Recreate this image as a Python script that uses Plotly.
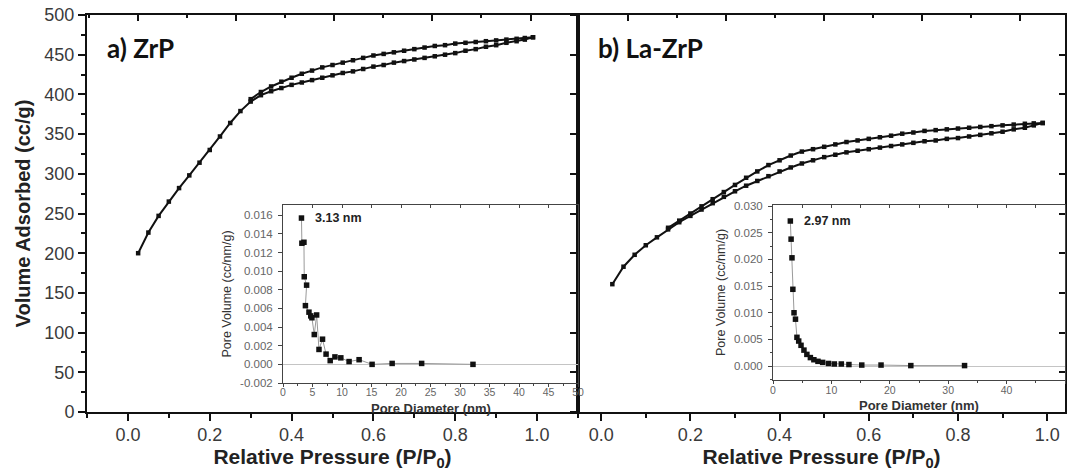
import plotly.graph_objects as go

# ---------------- N2 isotherm, ZrP ----------------
zrp_ads_p = [0.025, 0.05, 0.075, 0.10, 0.125, 0.15, 0.175, 0.20, 0.225, 0.25,
             0.275, 0.30, 0.325, 0.35, 0.375, 0.40, 0.425, 0.45, 0.475, 0.50,
             0.525, 0.55, 0.575, 0.60, 0.625, 0.65, 0.675, 0.70, 0.725, 0.75,
             0.775, 0.80, 0.825, 0.85, 0.875, 0.90, 0.925, 0.95, 0.97, 0.99]
zrp_ads_v = [200, 226, 247, 265, 282, 298, 314, 330, 347, 364,
             379, 391, 399, 404, 408, 412, 415, 418, 421, 424,
             427, 429, 432, 435, 437, 440, 442, 444, 446, 448,
             450, 452, 455, 457, 460, 462, 465, 467, 469, 472]
zrp_des_p = [0.99, 0.97, 0.95, 0.925, 0.90, 0.875, 0.85, 0.825, 0.80, 0.775,
             0.75, 0.725, 0.70, 0.675, 0.65, 0.625, 0.60, 0.575, 0.55, 0.525,
             0.50, 0.475, 0.45, 0.425, 0.40, 0.375, 0.35, 0.325, 0.30]
zrp_des_v = [472, 471, 470, 469, 468, 467, 466, 465, 464, 462,
             461, 459, 457, 455, 453, 451, 449, 446, 443, 440,
             437, 434, 430, 426, 421, 416, 410, 403, 394]

# ---------------- N2 isotherm, La-ZrP ----------------
la_ads_p = [0.025, 0.05, 0.075, 0.10, 0.125, 0.15, 0.175, 0.20, 0.225, 0.25,
            0.275, 0.30, 0.325, 0.35, 0.375, 0.40, 0.425, 0.45, 0.475, 0.50,
            0.525, 0.55, 0.575, 0.60, 0.625, 0.65, 0.675, 0.70, 0.725, 0.75,
            0.775, 0.80, 0.825, 0.85, 0.875, 0.90, 0.925, 0.95, 0.97, 0.99]
la_ads_v = [161, 183, 198, 210, 220, 230, 239, 247, 255, 263,
            271, 278, 285, 291, 297, 303, 308, 313, 317, 321,
            324, 327, 329, 331, 333, 335, 337, 339, 341, 342,
            344, 345, 347, 349, 351, 353, 356, 358, 361, 364]
la_des_p = [0.99, 0.97, 0.95, 0.925, 0.90, 0.875, 0.85, 0.825, 0.80, 0.775,
            0.75, 0.725, 0.70, 0.675, 0.65, 0.625, 0.60, 0.575, 0.55, 0.525,
            0.50, 0.475, 0.45, 0.425, 0.40, 0.375, 0.35, 0.325, 0.30, 0.275,
            0.25, 0.225, 0.20, 0.175, 0.15]
la_des_v = [364, 363.5, 363, 362, 361, 360, 359, 358, 357, 356,
            355, 354, 352, 350.5, 348, 346, 344, 342, 340, 337,
            334, 331, 328, 323, 317, 311, 303, 295, 286, 277,
            268, 259, 250, 241, 232]

# ---------------- pore size distributions ----------------
zrp_psd_d = [3.13, 3.2, 3.55, 3.6, 4.0, 3.8, 4.4, 4.7, 4.9, 5.3,
             5.7, 6.1, 6.7, 7.3, 8.0, 8.8, 9.8, 11.2, 12.9, 15.1,
             18.5, 23.5, 32.2]
zrp_psd_v = [0.0157, 0.0130, 0.0131, 0.0094, 0.0085, 0.0063, 0.0056, 0.0052, 0.0050, 0.0032,
             0.0053, 0.0016, 0.0027, 0.0011, 0.0004, 0.0008, 0.0007, 0.0003, 0.0005, 0.0000,
             0.0001, 0.0001, 0.0000]
la_psd_d = [2.97, 3.1, 3.25, 3.4, 3.6, 3.85, 4.1, 4.4, 4.8, 5.3,
            5.8, 6.4, 7.0, 7.7, 8.5, 9.5, 10.5, 11.7, 13.0, 15.2,
            18.5, 23.6, 32.8]
la_psd_v = [0.0272, 0.0238, 0.0203, 0.0144, 0.0100, 0.0088, 0.0054, 0.0047, 0.0039, 0.0030,
            0.0022, 0.0016, 0.0012, 0.0009, 0.0007, 0.0005, 0.0004, 0.0004, 0.0003, 0.0002,
            0.0002, 0.0001, 0.0001]

panel_labels = ["a) ZrP", "b) La-ZrP"]
peak_labels = ["3.13 nm", "2.97 nm"]
psd_x_title = "Pore Diameter (nm)"
psd_y_title = "Pore Volume (cc/nm/g)"
zrp_psd_yticks = [-0.002, 0.000, 0.002, 0.004, 0.006, 0.008, 0.010, 0.012, 0.014, 0.016]
zrp_psd_yticktext = ["-0.002", "0.000", "0.002", "0.004", "0.006", "0.008",
                     "0.010", "0.012", "0.014", "0.016"]

MAIN_FONT = "Liberation Sans, Arial, sans-serif"
BLACK = "#111111"
INSET_LINE = "#444444"

fig = go.Figure()

iso_line = dict(color=BLACK, width=2)
iso_marker = dict(symbol="square", size=4.5, color=BLACK)

# isotherms: adsorption on the bottom/left axes, desorption on the top/right overlay axes
fig.add_trace(go.Scatter(x=zrp_ads_p, y=zrp_ads_v, mode="lines+markers", line=iso_line,
                         marker=iso_marker, xaxis="x", yaxis="y", showlegend=False))
fig.add_trace(go.Scatter(x=zrp_des_p, y=zrp_des_v, mode="lines+markers", line=iso_line,
                         marker=iso_marker, xaxis="x5", yaxis="y5", showlegend=False))
fig.add_trace(go.Scatter(x=la_ads_p, y=la_ads_v, mode="lines+markers", line=iso_line,
                         marker=iso_marker, xaxis="x2", yaxis="y2", showlegend=False))
fig.add_trace(go.Scatter(x=la_des_p, y=la_des_v, mode="lines+markers", line=iso_line,
                         marker=iso_marker, xaxis="x6", yaxis="y6", showlegend=False))

# pore size distributions: thin connecting line + square markers
psd_line = dict(color="#9a9a9a", width=1)
psd_marker = dict(symbol="square", size=5.5, color=BLACK)
fig.add_trace(go.Scatter(x=zrp_psd_d, y=zrp_psd_v, mode="lines", line=psd_line,
                         xaxis="x3", yaxis="y3", showlegend=False))
fig.add_trace(go.Scatter(x=zrp_psd_d, y=zrp_psd_v, mode="markers", marker=psd_marker,
                         xaxis="x7", yaxis="y7", showlegend=False))
fig.add_trace(go.Scatter(x=la_psd_d, y=la_psd_v, mode="lines", line=psd_line,
                         xaxis="x4", yaxis="y4", showlegend=False))
fig.add_trace(go.Scatter(x=la_psd_d, y=la_psd_v, mode="markers", marker=psd_marker,
                         xaxis="x8", yaxis="y8", showlegend=False))

W, H = 1070, 476
def px_x(p):
    return p / W
def px_y(p):
    return 1 - p / H

dom_ya = [px_y(412), px_y(15)]
dom_xa = [px_x(87), px_x(578)]
dom_xb = [px_x(578), px_x(1065)]
dom_inset_a_x = [px_x(283), px_x(578)]
dom_inset_a_y = [px_y(383), px_y(205)]
dom_inset_b_x = [px_x(773), px_x(1065)]
dom_inset_b_y = [px_y(380), px_y(205)]

tick_font = dict(family=MAIN_FONT, size=18, color="#3a3a3a")
xtitle_font = dict(family=MAIN_FONT, size=21, color="#222222")
ytitle_font = dict(family=MAIN_FONT, size=20, color="#222222")
inset_xtick_font = dict(family=MAIN_FONT, size=10.5, color="#666666")
inset_ytick_font = dict(family=MAIN_FONT, size=11.5, color="#666666")
inset_title_font = dict(family=MAIN_FONT, size=13, color="#333333")
inset_ytitle_font = dict(family=MAIN_FONT, size=12.5, color="#333333")


def main_ax(**kw):
    base = dict(showgrid=False, zeroline=False, automargin=False, fixedrange=True,
                showline=True, linewidth=2, linecolor=BLACK, tickcolor=BLACK,
                tickwidth=1.5)
    base.update(kw)
    return base


def inset_ax(**kw):
    base = dict(showgrid=False, zeroline=False, automargin=False, fixedrange=True,
                showline=True, linewidth=1, linecolor=INSET_LINE, tickcolor=INSET_LINE)
    base.update(kw)
    return base


pressure_title = "<b>Relative Pressure (P/P<sub>0</sub>)</b>"

fig.update_layout(
    width=W, height=H, autosize=False,
    margin=dict(l=0, r=0, t=0, b=0),
    paper_bgcolor="white", plot_bgcolor="rgba(0,0,0,0)",
    # --- panel a ---
    xaxis=main_ax(domain=dom_xa, anchor="y", range=[-0.1, 1.1],
                  ticks="outside", ticklen=7, tick0=0, dtick=0.2, tickformat=".1f",
                  tickfont=tick_font, ticklabelstandoff=-2,
                  minor=dict(ticks="outside", dtick=0.1, tick0=0, ticklen=4, tickcolor=BLACK),
                  title=dict(text=pressure_title, font=xtitle_font, standoff=4)),
    yaxis=main_ax(domain=dom_ya, anchor="x", range=[0, 500],
                  ticks="outside", ticklen=7, tick0=0, dtick=50, tickfont=tick_font,
                  minor=dict(ticks="outside", dtick=25, tick0=0, ticklen=4, tickcolor=BLACK),
                  title=dict(text="<b>Volume Adsorbed (cc/g)</b>", font=ytitle_font, standoff=8)),
    xaxis5=main_ax(overlaying="x", side="top", anchor="y", range=[-0.1, 1.1],
                   ticks="inside", ticklen=6, tick0=0.024, dtick=0.24, showticklabels=False,
                   minor=dict(ticks="inside", dtick=0.12, tick0=0.024, ticklen=3, tickcolor=BLACK)),
    yaxis5=main_ax(overlaying="y", side="right", anchor="x", range=[0, 500],
                   ticks="inside", ticklen=6, tick0=0, dtick=50, showticklabels=False),
    # --- panel b ---
    xaxis2=main_ax(domain=dom_xb, anchor="y2", range=[-0.052, 1.04],
                   ticks="outside", ticklen=7, tick0=0, dtick=0.2, tickformat=".1f",
                   tickfont=tick_font, ticklabelstandoff=-2,
                   minor=dict(ticks="outside", dtick=0.1, tick0=0, ticklen=4, tickcolor=BLACK),
                   title=dict(text=pressure_title, font=xtitle_font, standoff=4)),
    yaxis2=main_ax(domain=dom_ya, anchor="x2", range=[0, 500],
                   ticks="outside", ticklen=6, tick0=0, dtick=50, showticklabels=False),
    xaxis6=main_ax(overlaying="x2", side="top", anchor="y2", range=[-0.052, 1.04],
                   ticks="inside", ticklen=6, tick0=0.06, dtick=0.22, showticklabels=False,
                   minor=dict(ticks="inside", dtick=0.11, tick0=0.06, ticklen=3, tickcolor=BLACK)),
    yaxis6=main_ax(overlaying="y2", side="right", anchor="x2", range=[0, 500],
                   ticks="inside", ticklen=6, tick0=0, dtick=50, showticklabels=False),
    # --- inset a ---
    xaxis3=inset_ax(domain=dom_inset_a_x, anchor="y3", range=[0, 50],
                    ticks="outside", ticklen=3, dtick=5, tickfont=inset_xtick_font,
                    ticklabelstandoff=-4,
                    minor=dict(ticks="outside", dtick=2.5, ticklen=2, tickcolor=INSET_LINE)),
    yaxis3=inset_ax(domain=dom_inset_a_y, anchor="x3", range=[-0.002, 0.0171],
                    zeroline=True, zerolinecolor="#c4c4c4", zerolinewidth=1,
                    ticks="outside", ticklen=4, tickvals=zrp_psd_yticks,
                    ticktext=zrp_psd_yticktext, tickfont=inset_ytick_font, ticklabelstandoff=3,
                    title=dict(text=psd_y_title, font=inset_ytitle_font, standoff=5)),
    xaxis7=inset_ax(overlaying="x3", side="top", anchor="y3", range=[0, 50],
                    ticks="inside", ticklen=3, dtick=5, showticklabels=False),
    yaxis7=inset_ax(overlaying="y3", side="right", anchor="x3", range=[-0.002, 0.0171],
                    ticks="", showticklabels=False),
    # --- inset b ---
    xaxis4=inset_ax(domain=dom_inset_b_x, anchor="y4", range=[0, 50],
                    ticks="outside", ticklen=3, dtick=10, tickfont=inset_xtick_font,
                    ticklabelstandoff=-3,
                    minor=dict(ticks="outside", dtick=5, ticklen=2, tickcolor=INSET_LINE)),
    yaxis4=inset_ax(domain=dom_inset_b_y, anchor="x4", range=[-0.0026, 0.0302],
                    zeroline=True, zerolinecolor="#c4c4c4", zerolinewidth=1,
                    ticks="outside", ticklen=4, tick0=0, dtick=0.005, tickformat=".3f",
                    tickfont=inset_ytick_font, ticklabelstandoff=3,
                    minor=dict(ticks="outside", dtick=0.0025, tick0=0, ticklen=2,
                               tickcolor=INSET_LINE),
                    title=dict(text=psd_y_title, font=inset_ytitle_font, standoff=5)),
    xaxis8=inset_ax(overlaying="x4", side="top", anchor="y4", range=[0, 50],
                    ticks="inside", ticklen=3, dtick=5, showticklabels=False),
    yaxis8=inset_ax(overlaying="y4", side="right", anchor="x4", range=[-0.0026, 0.0302],
                    ticks="", showticklabels=False),
)

# inset x-axis titles, placed just under the inset tick labels
for dom, ypx in [(dom_inset_a_x, 408), (dom_inset_b_x, 405)]:
    fig.add_annotation(text=f"<b>{psd_x_title}</b>", xref="paper", yref="paper",
                       x=(dom[0] + dom[1]) / 2, y=px_y(ypx), xanchor="center",
                       yanchor="middle", showarrow=False, font=inset_title_font)

# panel labels
for lbl, xpx in zip(panel_labels, [105, 596]):
    fig.add_annotation(text=f"<b>{lbl}</b>", xref="paper", yref="paper",
                       x=px_x(xpx), y=px_y(48), xanchor="left", yanchor="middle",
                       showarrow=False, font=dict(family="Lato, Open Sans, sans-serif",
                                                  size=26, color=BLACK))

# peak annotations in the insets
fig.add_annotation(text=f"<b>{peak_labels[0]}</b>", xref="x3", yref="y3",
                   x=5, y=zrp_psd_v[0], xanchor="left", yanchor="middle", showarrow=False,
                   font=dict(family=MAIN_FONT, size=12.5, color="#222"))
fig.add_annotation(text=f"<b>{peak_labels[1]}</b>", xref="x4", yref="y4",
                   x=5, y=la_psd_v[0], xanchor="left", yanchor="middle", showarrow=False,
                   font=dict(family=MAIN_FONT, size=12.5, color="#222"))

fig.write_html("out.html")
